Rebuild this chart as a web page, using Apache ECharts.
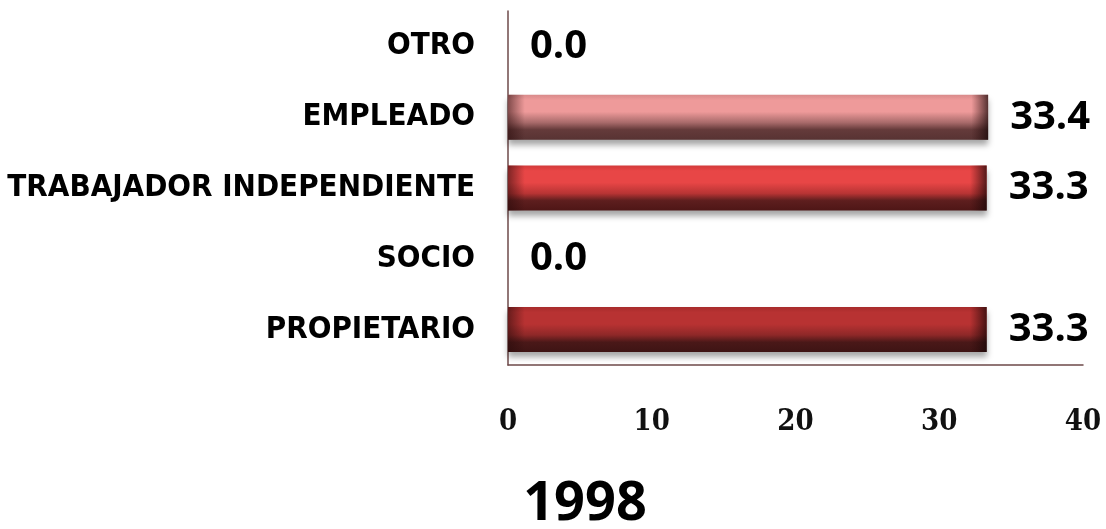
<!DOCTYPE html>
<html>
<head>
<meta charset="utf-8">
<script src="https://cdn.jsdelivr.net/npm/echarts@6/dist/echarts.min.js"></script>
<style>
  html, body { margin: 0; padding: 0; background: #fff; }
  #chart { width: 1106px; height: 529px; }
</style>
</head>
<body>
<div id="chart"></div>
<script>
// datos
const categories = ['OTRO', 'EMPLEADO', 'TRABAJADOR INDEPENDIENTE', 'SOCIO', 'PROPIETARIO'];
const values = [0.0, 33.4, 33.3, 0.0, 33.3];
const xTicks = [0, 10, 20, 30, 40];
const yearLabel = '1998';

// colores por barra: [arriba, claro, medio, oscuro, abajo]
const barColors = [
    ['#c06060', '#d88080', '#905050', '#503030', '#402525'],
    ['#d88a8a', '#ee9a9a', '#a86a6a', '#643a3a', '#583333'],
    ['#d23a3a', '#e84646', '#b83434', '#5e1e1e', '#4e1616'],
    ['#a82c2c', '#b83232', '#8e2828', '#4a1818', '#3e1414'],
    ['#a82c2c', '#b83232', '#8e2828', '#4a1818', '#3e1414']
];

function vGrad(c) {
    return new echarts.graphic.LinearGradient(0, 0, 0, 1, [
        { offset: 0, color: c[0] },
        { offset: 0.12, color: c[1] },
        { offset: 0.38, color: c[1] },
        { offset: 0.62, color: c[2] },
        { offset: 0.78, color: c[3] },
        { offset: 1, color: c[4] }
    ]);
}

const chart = echarts.init(document.getElementById('chart'));

const option = {
    animation: false,
    grid: {
        left: 508,
        width: 575,
        top: 11,
        height: 354,
        containLabel: false
    },
    xAxis: {
        type: 'value',
        min: xTicks[0],
        max: xTicks[xTicks.length - 1],
        interval: 10,
        splitLine: { show: false },
        axisTick: { show: false },
        axisLine: { show: true, lineStyle: { color: '#6e4a4a', width: 1.5 } },
        axisLabel: {
            margin: 43,
            color: '#111',
            fontFamily: '"DejaVu Serif Condensed", "DejaVu Serif"',
            fontWeight: 'bold',
            fontSize: 29
        }
    },
    yAxis: {
        type: 'category',
        inverse: true,
        data: categories,
        axisTick: { show: false },
        axisLine: { show: true, lineStyle: { color: '#6e4a4a', width: 1.5 } },
        axisLabel: {
            margin: 33,
            color: '#000',
            fontFamily: '"DejaVu Sans Condensed", "DejaVu Sans"',
            fontWeight: 'bold',
            fontSize: 31
        }
    },
    graphic: [{
        type: 'text',
        x: 585,
        y: 505,
        style: {
            text: yearLabel,
            fill: '#000',
            font: 'bold 54px "Open Sans"',
            align: 'center',
            verticalAlign: 'middle'
        }
    }],
    series: [
        {
            name: 'valor',
            type: 'bar',
            barWidth: 45,
            data: values.map((v, i) => ({
                value: v,
                itemStyle: {
                    color: vGrad(barColors[i]),
                    shadowColor: 'rgba(0,0,0,0.35)',
                    shadowBlur: 6,
                    shadowOffsetY: 5
                }
            })),
            label: {
                show: true,
                position: 'right',
                distance: 22,
                color: '#000',
                fontFamily: '"Open Sans"',
                fontWeight: 'bold',
                fontSize: 40,
                formatter: p => p.value.toFixed(1)
            }
        },
        {
            // bisel en los extremos
            name: 'bisel',
            type: 'bar',
            barWidth: 45,
            barGap: '-100%',
            silent: true,
            data: values,
            itemStyle: {
                color: new echarts.graphic.LinearGradient(0, 0, 1, 0, [
                    { offset: 0, color: 'rgba(40,10,10,0.55)' },
                    { offset: 0.035, color: 'rgba(40,10,10,0)' },
                    { offset: 0.965, color: 'rgba(40,10,10,0)' },
                    { offset: 1, color: 'rgba(20,5,5,0.7)' }
                ])
            },
            label: { show: false }
        }
    ]
};

chart.setOption(option);
</script>
</body>
</html>
